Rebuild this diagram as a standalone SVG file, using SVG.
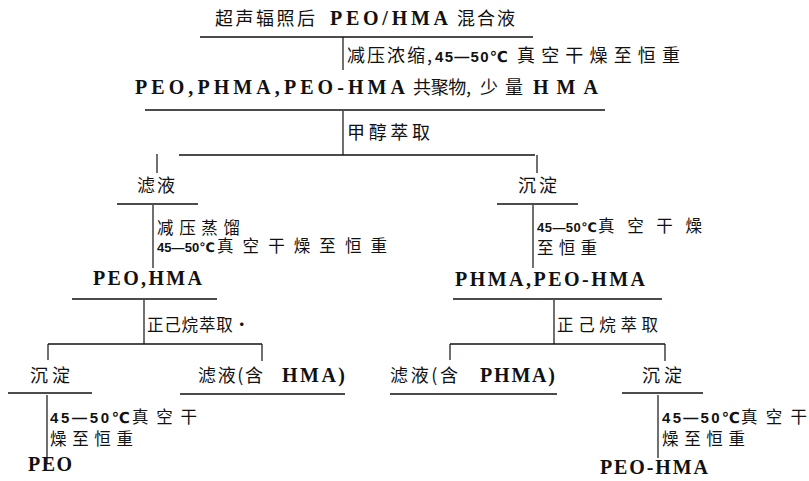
<svg xmlns="http://www.w3.org/2000/svg" width="809" height="481" viewBox="0 0 809 481">
<style>
  .bg{fill:#fff}
  text{fill:#111}
  .cj{font-family:"Noto Sans CJK SC","Noto Sans CJK TC",sans-serif;font-size:16.5px}
  .cjb{font-family:"Noto Sans CJK SC","Noto Sans CJK TC",sans-serif;font-size:18px}
  .la{font-family:"Liberation Serif","DejaVu Serif",serif;font-size:20px;font-weight:bold}
  .dg{font-family:"Liberation Sans","DejaVu Sans",sans-serif;font-size:15px;font-weight:bold}
  .ds{font-family:"Liberation Sans","DejaVu Sans",sans-serif;font-size:13px;font-weight:bold}
  .h{stroke:#111;stroke-width:1.6;fill:none}
  .v{stroke:#111;stroke-width:1.2;fill:none}
</style>
<rect class="bg" x="0" y="0" width="809" height="481"/>

<g id="n-mix">
  <text y="25"><tspan class="cjb" x="215" textLength="100" lengthAdjust="spacing">超声辐照后</tspan> <tspan class="la" x="330" textLength="118" lengthAdjust="spacing">PEO/HMA</tspan> <tspan class="cjb" x="457" textLength="58" lengthAdjust="spacing">混合液</tspan></text>
  <line class="h" x1="200" y1="37" x2="533" y2="37"/>
</g>

<g id="n-crude">
  <text y="94"><tspan class="la" x="135" textLength="270" lengthAdjust="spacing">PEO,PHMA,PEO-HMA</tspan> <tspan class="cjb" x="413" textLength="58" lengthAdjust="spacing">共聚物,</tspan><tspan class="cjb" x="480" textLength="43" lengthAdjust="spacing">少量</tspan> <tspan class="la" x="533" textLength="65" lengthAdjust="spacing">HMA</tspan></text>
  <line class="h" x1="145" y1="110" x2="605" y2="110"/>
</g>

<g id="n-filtrate1">
  <text class="cjb" x="137" y="192" textLength="38" lengthAdjust="spacing">滤液</text>
  <line class="h" x1="117" y1="204" x2="198" y2="204"/>
</g>

<g id="n-precip1">
  <text class="cjb" x="518" y="192" textLength="39" lengthAdjust="spacing">沉淀</text>
  <line class="h" x1="497" y1="204" x2="578" y2="204"/>
</g>

<g id="n-peohma">
  <text class="la" x="93" y="285" textLength="109" lengthAdjust="spacing">PEO,HMA</text>
  <line class="h" x1="72" y1="299" x2="217" y2="299"/>
</g>

<g id="n-phma-peohma">
  <text class="la" x="455" y="286" textLength="190" lengthAdjust="spacing">PHMA,PEO-HMA</text>
  <line class="h" x1="453" y1="299" x2="662" y2="299"/>
</g>

<g id="n-precip2">
  <text class="cjb" x="30" y="382" textLength="40" lengthAdjust="spacing">沉淀</text>
  <line class="h" x1="8" y1="393" x2="92" y2="393"/>
</g>

<g id="n-filtrate-hma">
  <text y="382"><tspan class="cjb" x="198" textLength="65" lengthAdjust="spacing">滤液(含</tspan> <tspan class="la" x="282" textLength="63" lengthAdjust="spacing">HMA)</tspan></text>
  <line class="h" x1="180" y1="394" x2="345" y2="394"/>
</g>

<g id="n-filtrate-phma">
  <text y="382"><tspan class="cjb" x="390" textLength="68" lengthAdjust="spacing">滤液(含</tspan> <tspan class="la" x="480" textLength="75" lengthAdjust="spacing">PHMA)</tspan></text>
  <line class="h" x1="390" y1="394" x2="557" y2="394"/>
</g>

<g id="n-precip3">
  <text class="cjb" x="642" y="382" textLength="40" lengthAdjust="spacing">沉淀</text>
  <line class="h" x1="622" y1="393" x2="703" y2="393"/>
</g>

<g id="n-peo">
  <text class="la" x="28" y="471" textLength="44" lengthAdjust="spacing">PEO</text>
</g>

<g id="n-copolymer">
  <text class="la" x="600" y="474" textLength="108" lengthAdjust="spacing">PEO-HMA</text>
</g>

<g id="connectors">
  <line class="v" x1="343" y1="37" x2="343" y2="70"/>
  <text y="62"><tspan class="cjb" x="347" textLength="85" lengthAdjust="spacing">减压浓缩,</tspan><tspan class="dg" x="435" textLength="73" lengthAdjust="spacing">45—50℃</tspan> <tspan class="cjb" x="517" textLength="163" lengthAdjust="spacing">真空干燥至恒重</tspan></text>

  <line class="v" x1="343" y1="111" x2="343" y2="155"/>
  <text class="cjb" x="347" y="139" textLength="83" lengthAdjust="spacing">甲醇萃取</text>
  <line class="h" x1="179" y1="155" x2="535" y2="155"/>
  <line class="v" x1="157" y1="154" x2="157" y2="173"/>
  <line class="v" x1="537" y1="155" x2="537" y2="173"/>

  <line class="v" x1="153" y1="205" x2="153" y2="268"/>
  <text><tspan class="cj" x="157" y="234" textLength="83" lengthAdjust="spacing">减压蒸馏</tspan>
    <tspan class="ds" x="157" y="252" textLength="58" lengthAdjust="spacing">45—50℃</tspan><tspan class="cj" x="217" y="252" textLength="170" lengthAdjust="spacing">真空干燥至恒重</tspan></text>

  <line class="v" x1="533" y1="205" x2="533" y2="268"/>
  <text><tspan class="ds" x="537" y="232" textLength="60" lengthAdjust="spacing">45—50℃</tspan><tspan class="cj" x="598" y="232" textLength="104" lengthAdjust="spacing">真空干燥</tspan>
    <tspan class="cj" x="537" y="254" textLength="60" lengthAdjust="spacing">至恒重</tspan></text>

  <line class="v" x1="144" y1="300" x2="144" y2="344"/>
  <text class="cj" x="147" y="331" textLength="103" lengthAdjust="spacing">正己烷萃取•</text>
  <line class="h" x1="48" y1="344" x2="262" y2="344"/>
  <line class="v" x1="48" y1="344" x2="48" y2="360"/>
  <line class="v" x1="262" y1="344" x2="262" y2="361"/>

  <line class="v" x1="554" y1="300" x2="554" y2="344"/>
  <text class="cj" x="557" y="331" textLength="101" lengthAdjust="spacing">正己烷萃取</text>
  <line class="h" x1="450" y1="344" x2="665" y2="344"/>
  <line class="v" x1="450" y1="344" x2="450" y2="360"/>
  <line class="v" x1="665" y1="344" x2="665" y2="361"/>

  <line class="v" x1="47" y1="395" x2="47" y2="463"/>
  <text><tspan class="dg" x="50" y="423" textLength="80" lengthAdjust="spacing">45—50℃</tspan><tspan class="cj" x="132" y="423" textLength="65" lengthAdjust="spacing">真空干</tspan>
    <tspan class="cj" x="50" y="445" textLength="83" lengthAdjust="spacing">燥至恒重</tspan></text>

  <line class="v" x1="658" y1="395" x2="658" y2="458"/>
  <text><tspan class="dg" x="662" y="423" textLength="78" lengthAdjust="spacing">45—50℃</tspan><tspan class="cj" x="741" y="423" textLength="66" lengthAdjust="spacing">真空干</tspan>
    <tspan class="cj" x="662" y="445" textLength="83" lengthAdjust="spacing">燥至恒重</tspan></text>
</g>
</svg>
